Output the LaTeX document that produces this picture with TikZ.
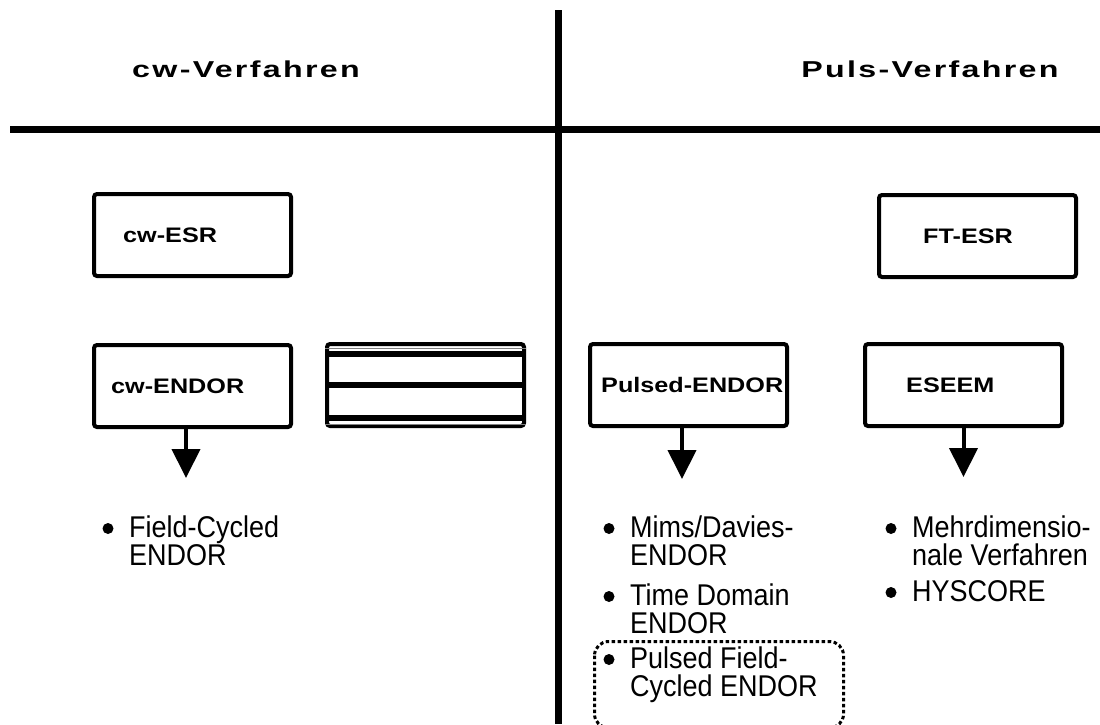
\documentclass[tikz,border=0pt]{standalone}
\usepackage{fontspec}
\newfontfamily\headfont[FakeStretch=1.4,LetterSpace=10]{Liberation Sans}
\newfontfamily\boxfont[FakeStretch=1.2]{Liberation Sans}
\newfontfamily\listfont[FakeStretch=0.9]{Liberation Sans}
\usetikzlibrary{arrows.meta,positioning}

\begin{document}
\begin{tikzpicture}[x=1pt, y=-1pt,
  methodbox/.style={draw, line width=4pt, rounded corners=3pt,
                    minimum width=197pt, minimum height=82pt, inner sep=0pt},
  boxtext/.style={font=\boxfont\bfseries\fontsize{21}{21}\selectfont, inner sep=0pt, anchor=west},
  headtext/.style={font=\headfont\bfseries\fontsize{23}{23}\selectfont, inner sep=0pt, anchor=base},
  listtext/.style={font=\listfont\fontsize{30}{28}\selectfont, align=left, inner sep=0pt, anchor=base west},
  flow/.style={line width=4pt, -{Triangle[width=28pt,length=29pt]}},
  dotframe/.style={line width=3pt, dash pattern=on 3.5pt off 2.5pt, rounded corners=14pt}]
  \useasboundingbox (0,0) rectangle (1100,724);

  % Define dimensions
  \def\bulletsize{5.5pt}
  \def\bulletgap{21pt}
  \def\lineskip{28pt}

  % Draw the two columns
  \draw[line width=7pt] (10,129) -- (1100,129);
  \draw[line width=7pt] (558,10) -- (558,724);
  \node[headtext] (cwhead) at (246,77) {cw-Verfahren};
  \node[headtext] (pulshead) at (930,77) {Puls-Verfahren};

  % Method boxes
  \node[methodbox] (cwesr) at (192.5,235) {};
  \node[methodbox] (ftesr) at (977.5,236) {};
  \node[methodbox] (cwendor) at (192.5,386) {};
  \node[methodbox] (table) at (425.5,385) {};
  \node[methodbox] (pulsed) at (688.5,385) {};
  \node[methodbox] (eseem) at (963.5,385) {};

  % Label boxes
  \node[boxtext, right=31pt of cwesr.west] {cw-ESR};
  \node[boxtext, right=46pt of ftesr.west] {FT-ESR};
  \node[boxtext, right=19pt of cwendor.west] {cw-ENDOR};
  \node[boxtext, right=13pt of pulsed.west] {Pulsed-ENDOR};
  \node[boxtext, right=43pt of eseem.west] {ESEEM};

  % Rows of the empty table
  \foreach \y in {354,385,418}
      \draw[line width=6pt] (table.west |- 0,\y) -- (table.east |- 0,\y);
  \foreach \y in {348,424}
      \draw[line width=1pt, gray] (table.west |- 0,\y) -- (table.east |- 0,\y);

  % Arrows to the lists
  \draw[flow] ([xshift=-6.5pt]cwendor.south) -- ++(0,49);
  \draw[flow] ([xshift=-6.5pt]pulsed.south) -- ++(0,51);
  \draw[flow] (eseem.south) -- ++(0,49);

  % Lists (placed at the baseline of the last line)
  \node[listtext] (fieldcyc) at (129,565) {Field-Cycled\\ENDOR};
  \node[listtext] (mims) at (630,565) {Mims/Davies-\\ENDOR};
  \node[listtext] (timedom) at (630,633) {Time Domain\\ENDOR};
  \node[listtext] (pulsedfc) at (630,696) {Pulsed Field-\\Cycled ENDOR};
  \node[listtext] (mehrdim) at (912,565) {Mehrdimensio-\\nale Verfahren};
  \node[listtext] (hyscore) at (912,601) {HYSCORE};
  \foreach \item/\n in {fieldcyc/1, mims/1, timedom/1, pulsedfc/1, mehrdim/1, hyscore/0}
      \fill ([xshift=-\bulletgap, yshift=8.5pt+\n*\lineskip]\item.base west) circle (\bulletsize);

  % Highlight the new method
  \draw[dotframe] (594.5,641.5) rectangle (843.5,728);

\end{tikzpicture}
\end{document}
